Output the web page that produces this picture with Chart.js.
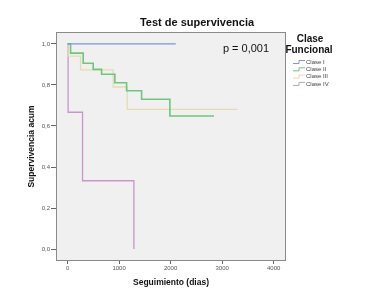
<!DOCTYPE html>
<html>
<head>
<meta charset="utf-8">
<script src="https://cdn.jsdelivr.net/npm/chart.js@4"></script>
<style>
  html, body { margin: 0; padding: 0; background: #fff; }
  #wrap { width: 366px; height: 304px; }
</style>
</head>
<body>
<div id="wrap"><canvas id="km" width="366" height="304"></canvas></div>
<script>
// tiempos (dias) y supervivencia acumulada por clase funcional
const claseI_t = [0, 2100];
const claseI_s = [1, 1];

const claseII_t = [0, 58, 303, 497, 660, 918, 1145, 1437, 1986, 2840];
const claseII_s = [1, 0.955, 0.906, 0.876, 0.852, 0.811, 0.772, 0.73, 0.649, 0.649];

const claseIII_t = [0, 10, 252, 885, 1157, 3293];
const claseIII_s = [1, 0.94, 0.873, 0.79, 0.681, 0.681];

const claseIV_t = [0, 10, 290, 1287];
const claseIV_s = [1, 0.667, 0.333, 0];

const seriesNames = ['Clase I', 'Clase II', 'Clase III', 'Clase IV'];
const colors = ['#7b96d9', '#6cc77a', '#e3dcb0', '#c896cc'];

const xTicks = [0, 1000, 2000, 3000, 4000];
const yTicks = [0, 0.2, 0.4, 0.6, 0.8, 1.0];

const FONT = '"Liberation Sans", Arial, sans-serif';

function pts(t, s) {
    return t.map((v, i) => ({ x: v, y: s[i] }));
}

const allT = [claseI_t, claseII_t, claseIII_t, claseIV_t];
const allS = [claseI_s, claseII_s, claseIII_s, claseIV_s];

const datasets = seriesNames.map((name, i) => ({
    label: name,
    data: pts(allT[i], allS[i]),
    borderColor: colors[i],
    borderWidth: i == 1 ? 1.6 : 1.3,
    stepped: 'before',
    pointRadius: 0,
    fill: false,
}));

// fondo gris del area del grafico + marco
const frame = {
    id: 'frame',
    beforeDatasetsDraw(chart) {
        const a = chart.chartArea, ctx = chart.ctx;
        ctx.save();
        ctx.fillStyle = '#f0f0f0';
        ctx.fillRect(a.left, a.top, a.right - a.left, a.bottom - a.top);
        ctx.restore();
    },
    afterDatasetsDraw(chart) {
        const a = chart.chartArea, ctx = chart.ctx;
        ctx.save();
        ctx.strokeStyle = '#8a8a8a';
        ctx.lineWidth = 1;
        ctx.strokeRect(a.left + 0.5, a.top + 0.5, a.right - a.left - 1, a.bottom - a.top - 1);
        ctx.restore();
    },
    afterDraw(chart) {
        const ctx = chart.ctx;
        ctx.save();
        ctx.fillStyle = '#111';
        ctx.textBaseline = 'middle';
        ctx.textAlign = 'center';
        ctx.font = 'bold 11px ' + FONT;
        ctx.fillText('Test de supervivencia', 197, 23);

        ctx.font = '11px ' + FONT;
        ctx.fillText('p = 0,001', 246, 49);

        // leyenda
        ctx.font = 'bold 10px ' + FONT;
        ctx.fillText('Clase', 310, 39);
        ctx.fillText('Funcional', 309, 50);

        ctx.font = '6px ' + FONT;
        ctx.textAlign = 'left';
        seriesNames.forEach((name, i) => {
            const y = 62 + i * 7.3;
            ctx.strokeStyle = colors[i];
            ctx.lineWidth = 1;
            ctx.beginPath();
            ctx.moveTo(293, y + 1.5);
            ctx.lineTo(299, y + 1.5);
            ctx.lineTo(299, y - 1.5);
            ctx.lineTo(305, y - 1.5);
            ctx.stroke();
            ctx.fillStyle = '#444';
            ctx.fillText(name, 306, y);
        });
        ctx.restore();
    }
};

const config = {
    type: 'line',
    data: { datasets: datasets },
    options: {
        responsive: false,
        animation: false,
        layout: { padding: { top: 32, right: 80, left: 0, bottom: 0 } },
        plugins: {
            legend: { display: false },
            tooltip: { enabled: false },
        },
        scales: {
            x: {
                type: 'linear',
                min: -225,
                max: 4240,
                afterBuildTicks: s => { s.ticks = xTicks.map(v => ({ value: v })); },
                afterFit: s => { s.height = 43; },
                grid: { drawOnChartArea: false, tickLength: 3, color: '#666' },
                border: { display: false },
                ticks: {
                    font: { size: 6, family: FONT },
                    color: '#555',
                    padding: 1,
                    maxRotation: 0,
                    callback: v => String(v),
                },
                title: {
                    display: true,
                    text: 'Seguimiento (dias)',
                    font: { size: 8.5, weight: 'bold', family: FONT },
                    color: '#111',
                    padding: { top: 0, bottom: 16 },
                },
            },
            y: {
                min: -0.058,
                max: 1.058,
                afterBuildTicks: s => { s.ticks = yTicks.map(v => ({ value: v })); },
                afterFit: s => { s.width = 56; },
                grid: { drawOnChartArea: false, tickLength: 5, color: '#666' },
                border: { display: false },
                ticks: {
                    font: { size: 6, family: FONT },
                    color: '#555',
                    padding: 1,
                    callback: v => v.toFixed(1).replace('.', ','),
                },
                title: {
                    display: true,
                    text: 'Supervivencia acum',
                    font: { size: 8.5, weight: 'bold', family: FONT },
                    color: '#111',
                    padding: { top: 27, bottom: 0 },
                },
            },
        },
    },
    plugins: [frame],
};

const km = new Chart(document.getElementById('km'), config);
</script>
</body>
</html>
